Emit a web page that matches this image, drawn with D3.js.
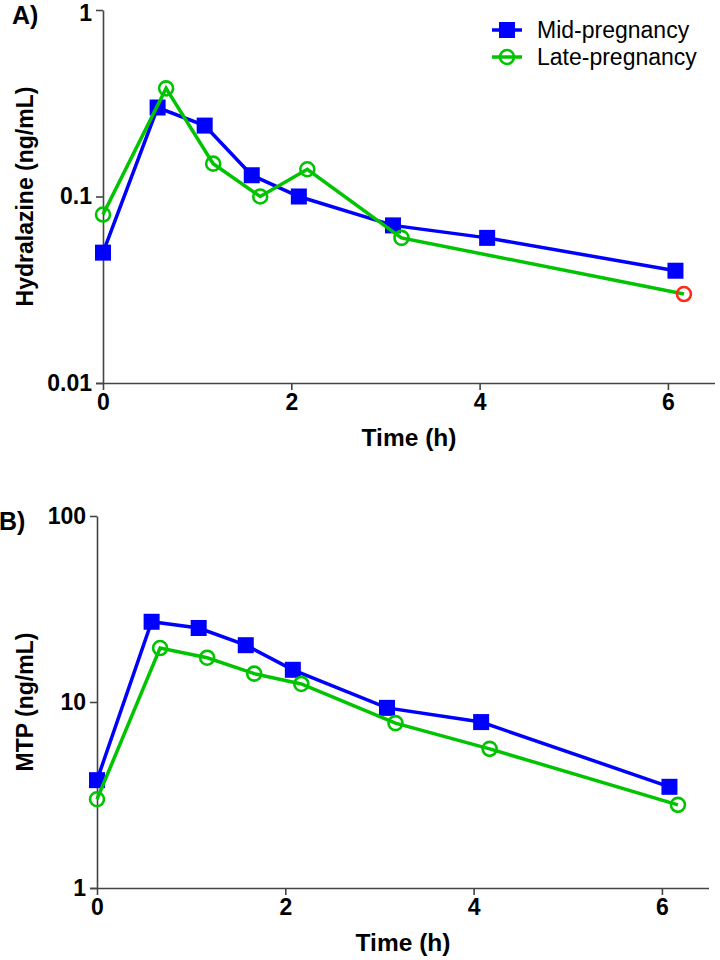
<!DOCTYPE html>
<html>
<head>
<meta charset="utf-8">
<script src="https://cdn.jsdelivr.net/npm/d3@7"></script>
<style>
  body { margin: 0; background: #fff; }
  text { font-family: "Liberation Sans", Arial, sans-serif; }
</style>
</head>
<body>
<div id="chart"></div>
<script>
// sampling times (h)
const timeMid = [0, 0.58, 1.08, 1.58, 2.08, 3.08, 4.08, 6.08];
const timeLate = [0, 0.67, 1.17, 1.67, 2.17, 3.17, 4.17, 6.17];
const timeLateA = [0, 0.67, 1.17, 1.67, 2.17, 3.17, 6.17];

// hydralazine (ng/mL)
const hydMid = [0.05, 0.30, 0.24, 0.13, 0.10, 0.07, 0.06, 0.04];
const hydLate = [0.08, 0.38, 0.15, 0.10, 0.14, 0.06, 0.03];
const hydLateFlag = [false, false, false, false, false, false, true]; // red marker

// MTP (ng/mL)
const mtpMid = [3.8, 27, 25, 20.2, 14.9, 9.3, 7.8, 3.5];
const mtpLate = [3.0, 19.5, 17.3, 14.2, 12.5, 7.7, 5.6, 2.8];

const xTicks = [0, 2, 4, 6];
const seriesNames = ["Mid-pregnancy", "Late-pregnancy"];

const blue = "#0000ff", green = "#00c400", red = "#ff2a1a", axisCol = "#444";

const svg = d3.select("#chart").append("svg")
    .attr("width", 720).attr("height", 960);

function zip(xs, ys, flags) {
    return xs.map((x, i) => ({ t: x, v: ys[i], flag: flags ? flags[i] : false }));
}

function drawPanel(opt) {
    const x = d3.scaleLinear().domain([0, 6.5]).range([opt.left, opt.right]);
    const y = d3.scaleLog().domain(opt.yDomain).range([opt.bottom, opt.top]);

    // axes
    const gx = svg.append("g").attr("transform", `translate(0,${opt.bottom})`)
        .call(d3.axisBottom(x).tickValues(xTicks).tickSize(7).tickSizeOuter(0).tickPadding(4).tickFormat(d3.format("d")));
    const gy = svg.append("g").attr("transform", `translate(${opt.left},0)`)
        .call(d3.axisLeft(y).tickValues(opt.yTicks).tickSize(7).tickSizeOuter(0).tickPadding(4).tickFormat(d => d3.format("")(d)));
    [gx, gy].forEach(g => {
        g.selectAll("path, line").attr("stroke", axisCol).attr("stroke-width", 1.6);
        g.selectAll("text").attr("font-size", 23).attr("font-weight", "bold")
            .attr("fill", "#000").style("font-family", '"Liberation Sans", Arial, sans-serif');
    });
    gx.select(".domain").attr("d", `M${opt.left - 7},0.5H${opt.right}`);
    // top label of panel A sits a little below its tick (page edge)
    if (opt.topLabelDy) {
        gy.selectAll(".tick text").filter(d => d === opt.yDomain[1]).attr("dy", opt.topLabelDy);
    }

    // axis titles
    svg.append("text").attr("x", (opt.left + opt.right) / 2).attr("y", opt.bottom + 63)
        .attr("text-anchor", "middle").attr("font-size", 24.5).attr("font-weight", "bold")
        .text("Time (h)");
    svg.append("text")
        .attr("transform", `translate(${opt.titleX},${(opt.top + opt.bottom) / 2}) rotate(-90)`)
        .attr("text-anchor", "middle").attr("font-size", 23).attr("font-weight", "bold")
        .text(opt.yTitle);

    svg.append("text").attr("x", opt.labelX).attr("y", opt.top + 14)
        .attr("font-size", 25).attr("font-weight", "bold").text(opt.label);

    const line = d3.line().x(d => x(d.t)).y(d => y(d.v));

    // mid-pregnancy
    svg.append("path").datum(opt.mid).attr("d", line)
        .attr("fill", "none").attr("stroke", blue).attr("stroke-width", 3.5);
    svg.append("g").selectAll("rect").data(opt.mid).join("rect")
        .attr("x", d => x(d.t) - 8).attr("y", d => y(d.v) - 8)
        .attr("width", 16).attr("height", 16).attr("fill", blue);

    // late-pregnancy
    svg.append("path").datum(opt.late).attr("d", line)
        .attr("fill", "none").attr("stroke", green).attr("stroke-width", 3.5);
    svg.append("g").selectAll("circle").data(opt.late).join("circle")
        .attr("cx", d => x(d.t)).attr("cy", d => y(d.v)).attr("r", 7)
        .attr("fill", "none").attr("stroke", d => d.flag ? red : green).attr("stroke-width", 2.6);
}

drawPanel({
    left: 103, right: 715, top: 10, bottom: 383,
    yDomain: [0.01, 1], yTicks: [0.01, 0.1, 1], topLabelDy: "0.45em",
    yTitle: "Hydralazine (ng/mL)", titleX: 33, label: "A)", labelX: 12,
    mid: zip(timeMid, hydMid), late: zip(timeLateA, hydLate, hydLateFlag)
});

drawPanel({
    left: 97, right: 709, top: 516, bottom: 888,
    yDomain: [1, 100], yTicks: [1, 10, 100],
    yTitle: "MTP (ng/mL)", titleX: 33, label: "B)", labelX: -1,
    mid: zip(timeMid, mtpMid), late: zip(timeLate, mtpLate)
});

// legend
const legend = svg.append("g");
seriesNames.forEach((name, i) => {
    const ly = 30 + i * 27;
    const col = i === 0 ? blue : green;
    legend.append("line").attr("x1", 492).attr("x2", 522).attr("y1", ly).attr("y2", ly)
        .attr("stroke", col).attr("stroke-width", 3.5);
    if (i === 0) {
        legend.append("rect").attr("x", 499).attr("y", ly - 8).attr("width", 16).attr("height", 16).attr("fill", blue);
    } else {
        legend.append("circle").attr("cx", 507).attr("cy", ly).attr("r", 7)
            .attr("fill", "none").attr("stroke", green).attr("stroke-width", 2.6);
    }
    legend.append("text").attr("x", 537).attr("y", ly).attr("dy", "0.35em")
        .attr("font-size", 23).text(name);
});
</script>
</body>
</html>
